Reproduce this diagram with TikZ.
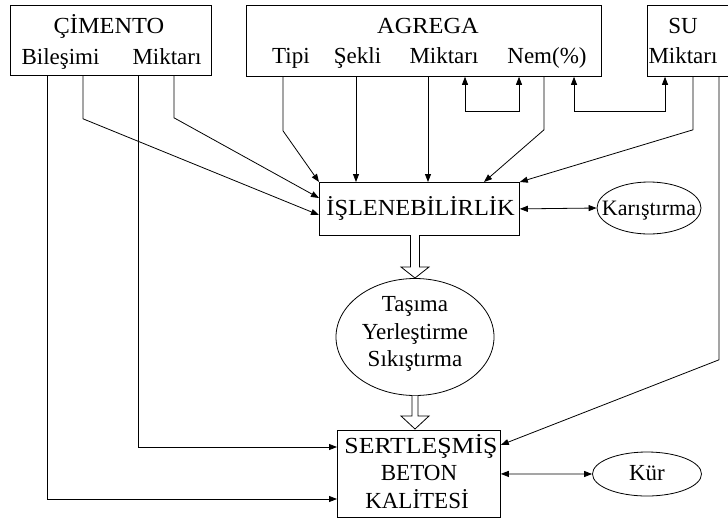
\documentclass[tikz,border=0pt]{standalone}
\usepackage{fontspec}
\setmainfont{Liberation Serif}
\newfontfamily\wideafont[FakeStretch=1.06]{Liberation Serif}
\newfontfamily\widebfont[FakeStretch=1.12]{Liberation Serif}
\usetikzlibrary{arrows.meta,shapes.geometric,calc}
\begin{document}
\begin{tikzpicture}[x=1pt,y=-1pt,
  line width=0.8pt,
  box/.style={draw, rectangle, inner sep=0pt, anchor=north west},
  ov/.style={draw, ellipse, inner sep=0pt},
  txt/.style={anchor=base, inner sep=0pt, font=\fontsize{23}{27}\selectfont},
  txta/.style={anchor=base, inner sep=0pt, font=\wideafont\fontsize{23}{27}\selectfont},
  txtb/.style={anchor=base, inner sep=0pt, font=\widebfont\fontsize{23}{27}\selectfont},
  txts/.style={anchor=base, inner sep=0pt, font=\fontsize{22}{26}\selectfont},
  arr/.style={-{Triangle[length=8pt,width=6pt]}},
  darr/.style={{Triangle[length=8pt,width=6pt]}-{Triangle[length=8pt,width=6pt]}},
  hollow/.style={draw, fill=white, line width=0.8pt}
]
\useasboundingbox (0,0) rectangle (728,520);

% boxes
\node[box, minimum width=201pt, minimum height=70pt] (cim) at (10,5) {};
\node[box, minimum width=355pt, minimum height=71pt] (agr) at (246,5) {};
\node[box, minimum width=90pt, minimum height=71pt] (su) at (647,5) {};
\node[box, minimum width=200pt, minimum height=53pt] (isl) at (319,182) {};
\node[box, minimum width=163pt, minimum height=87pt] (sert) at (337,430) {};
% ellipses
\node[ov, minimum width=104pt, minimum height=52pt] (kar) at (649,208) {};
\node[ov, minimum width=158pt, minimum height=117pt] (tas) at (415,337) {};
\node[ov, minimum width=109pt, minimum height=44pt] (kur) at (647,474) {};

% texts
\node[txta] (tcim) at (109,33) {ÇİMENTO};
\node[txt] (tbil) at (60.5,64) {Bileşimi};
\node[txt] (tmik) at (167,64) {Miktarı};
\node[txta] (tagr) at (428,33) {AGREGA};
\node[txt] (ttip) at (291,63) {Tipi};
\node[txt] (tsek) at (357.5,63) {Şekli};
\node[txt] (tamk) at (444,63) {Miktarı};
\node[txt] (tnem) at (547,63) {Nem(\%)};
\node[txt] (tsu) at (683,33) {SU};
\node[txt] (tsum) at (683,63) {Miktarı};
\node[txta] (tisl) at (420.5,215) {İŞLENEBİLİRLİK};
\node[txts] (tkar) at (649,215) {Karıştırma};
\node[txt] (tta1) at (415,311) {Taşıma};
\node[txt] (tta2) at (415,339) {Yerleştirme};
\node[txt] (tta3) at (415,366) {Sıkıştırma};
\node[txtb] (tse1) at (421,453) {SERTLEŞMİŞ};
\node[txt] (tse2) at (419,480) {BETON};
\node[txt] (tse3) at (417,508) {KALİTESİ};
\node[txt] (tkur) at (647,480) {Kür};

% connector end points
\path (cim.south west) ++(37,0) coordinate (c1);
\path (cim.south west) ++(73,0) coordinate (c2);
\path (cim.south west) ++(128,0) coordinate (c3);
\path (cim.south west) ++(164,0) coordinate (c4);
\path (agr.south west) ++(37,0) coordinate (a1);
\path (agr.south west) ++(110,0) coordinate (a2);
\path (agr.south west) ++(182,0) coordinate (a3);
\path (agr.south west) ++(219,0) coordinate (a4);
\path (agr.south west) ++(273,0) coordinate (a5);
\path (agr.south west) ++(298,0) coordinate (a6);
\path (agr.south west) ++(328,0) coordinate (a7);
\path (su.south west) ++(18,0) coordinate (u1);
\path (su.south west) ++(46,0) coordinate (u2);
\path (su.south west) ++(72,0) coordinate (u3);
\path (sert.north west) ++(0,17) coordinate (s1);
\path (sert.north west) ++(0,69) coordinate (s2);
\path (sert.north east) ++(0,15) coordinate (s3);
\path (isl.north west) ++(0,16) coordinate (i1);
\path (isl.north west) ++(0,33) coordinate (i2);
\path (isl.north west) ++(165,0) coordinate (i3);

% connectors
\draw[arr] (c1) |- (s2);
\draw[arr] (c3) |- (s1);
\draw[arr] (c2) -- ++(0,43) -- (i2);
\draw[arr] (c4) -- ++(0,42) -- (i1);
\draw[arr] (a1) -- ++(0,54) -- (isl.north west);
\draw[arr] (a2) -- (a2 |- isl.north);
\draw[arr] (a3) -- (a3 |- isl.north);
\draw[arr] (a6) -- ++(0,53) -- (i3);
\draw[darr] (a4) -- ++(0,35) -| (a5);
\draw[darr] (a7) -- ++(0,35) -| (u1);
\draw[arr] (u2) -- ++(0,53) -- (isl.north east);
\draw[arr] (u3) -- ++(0,283) -- (s3);
\draw[darr] (isl.east) -- (kar.west);
\draw[darr] (sert.east) -- (kur.west);

% hollow arrows
\draw[hollow] (410.5,235) -- (410.5,267) -- (401,267) -- (415,278) -- (429,267) -- (419.5,267) -- (419.5,235);
\draw[hollow] (412,395.5) -- (412,416) -- (401,416) -- (415,429) -- (429,416) -- (418,416) -- (418,395.5);
\end{tikzpicture}
\end{document}
